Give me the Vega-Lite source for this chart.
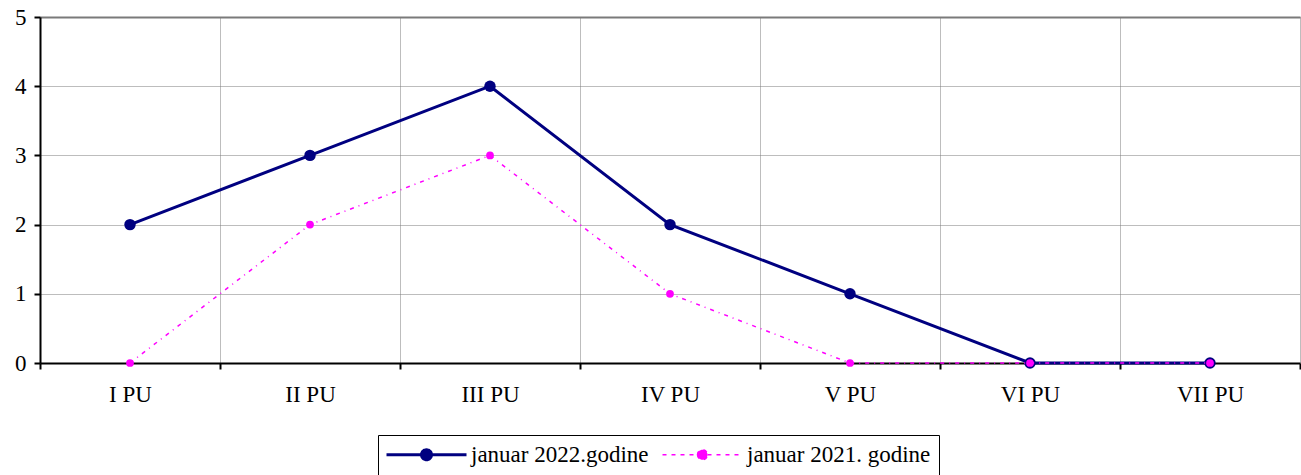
{
  "$schema": "https://vega.github.io/schema/vega-lite/v6.json",
  "width": 1260,
  "height": 346,
  "autosize": "none",
  "padding": {"left": 40, "top": 17, "right": 1, "bottom": 112},
  "background": "white",
  "config": {
    "view": {"stroke": null},
    "font": "Liberation Serif",
    "axis": {"labelFont": "Liberation Serif", "labelColor": "black", "labelFontSize": 23, "domainColor": "black", "tickColor": "black"}
  },
  "data": {
    "values": [
      {"pu": "I PU", "series": "januar 2022.godine", "value": 2},
      {"pu": "II PU", "series": "januar 2022.godine", "value": 3},
      {"pu": "III PU", "series": "januar 2022.godine", "value": 4},
      {"pu": "IV PU", "series": "januar 2022.godine", "value": 2},
      {"pu": "V PU", "series": "januar 2022.godine", "value": 1},
      {"pu": "VI PU", "series": "januar 2022.godine", "value": 0},
      {"pu": "VII PU", "series": "januar 2022.godine", "value": 0},
      {"pu": "I PU", "series": "januar 2021. godine", "value": 0},
      {"pu": "II PU", "series": "januar 2021. godine", "value": 2},
      {"pu": "III PU", "series": "januar 2021. godine", "value": 3},
      {"pu": "IV PU", "series": "januar 2021. godine", "value": 1},
      {"pu": "V PU", "series": "januar 2021. godine", "value": 0},
      {"pu": "VI PU", "series": "januar 2021. godine", "value": 0},
      {"pu": "VII PU", "series": "januar 2021. godine", "value": 0}
    ]
  },
  "encoding": {
    "x": {
      "field": "pu", "type": "nominal", "sort": null, "title": null,
      "scale": {"domain": ["I PU", "II PU", "III PU", "IV PU", "V PU", "VI PU", "VII PU"], "paddingInner": 0, "paddingOuter": 0},
      "axis": {
        "labelAngle": 0, "tickBand": "extent", "grid": true,
        "gridColor": "#7a7a7a", "gridDash": [1, 1], "gridWidth": 1,
        "domainWidth": 2, "tickWidth": 2, "tickSize": 6, "labelPadding": 14
      }
    },
    "y": {
      "field": "value", "type": "quantitative", "title": null,
      "scale": {"domain": [0, 5], "nice": false},
      "axis": {
        "values": [0, 1, 2, 3, 4, 5], "grid": true,
        "gridColor": "#7a7a7a",
        "gridDash": {"condition": {"test": "datum.value === 5", "value": []}, "value": [1, 1]},
        "gridWidth": {"condition": {"test": "datum.value === 5", "value": 2}, "value": 1},
        "domainWidth": 2, "tickWidth": 2, "tickSize": 6, "labelPadding": 8
      }
    },
    "color": {
      "field": "series", "type": "nominal", "title": null,
      "scale": {"domain": ["januar 2022.godine", "januar 2021. godine"], "range": ["#000080", "#FF00FF"]},
      "legend": {
        "orient": "none", "legendX": 338, "legendY": 418,
        "direction": "horizontal", "columns": 2,
        "strokeColor": "black", "padding": 8,
        "labelFont": "Liberation Serif", "labelFontSize": 23, "labelColor": "black",
        "labelLimit": 400, "columnPadding": 10, "symbolOffset": 29, "labelOffset": 33,
        "symbolType": "M-1,0H1M-0.125,0A0.125,0.125 0 1,0 0.125,0A0.125,0.125 0 1,0 -0.125,0Z",
        "encode": {
          "symbols": {
            "update": {
              "size": {"value": 6400},
              "fill": {"scale": "color", "field": "value"},
              "stroke": {"scale": "color", "field": "value"},
              "strokeWidth": {"signal": "datum.value === 'januar 2021. godine' ? 1.5 : 3"},
              "strokeDash": {"signal": "datum.value === 'januar 2021. godine' ? [4, 5] : [1, 0]"},
              "opacity": {"value": 1}
            }
          }
        }
      }
    }
  },
  "layer": [
    {
      "transform": [{"filter": "datum.series === 'januar 2022.godine'"}],
      "mark": {"type": "line", "strokeWidth": 3}
    },
    {
      "transform": [{"filter": "datum.series === 'januar 2022.godine'"}],
      "mark": {"type": "point", "filled": true, "opacity": 1, "shape": "circle", "size": 130}
    },
    {
      "transform": [{"filter": "datum.series === 'januar 2021. godine'"}],
      "mark": {"type": "line", "strokeWidth": 1.5, "strokeDash": [4, 5, 1, 5]}
    },
    {
      "transform": [{"filter": "datum.series === 'januar 2021. godine'"}],
      "mark": {"type": "point", "filled": true, "opacity": 1, "shape": "circle", "size": 60}
    }
  ]
}
